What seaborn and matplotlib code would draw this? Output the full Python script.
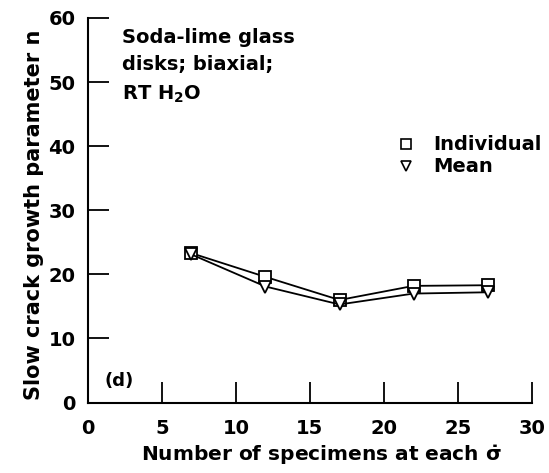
import pandas as pd
import matplotlib
matplotlib.use("Agg")
import matplotlib.pyplot as plt
import seaborn as sns
from matplotlib.lines import Line2D

# values
specimens = [7, 12, 17, 22, 27]
n_individual = [23.3, 19.6, 16.0, 18.2, 18.3]
n_mean = [23.1, 18.1, 15.3, 17.0, 17.2]

df = pd.DataFrame({
    "specimens": specimens * 2,
    "n": n_individual + n_mean,
    "series": ["Individual"] * len(specimens) + ["Mean"] * len(specimens),
})

sns.set_style("ticks", rc={"text.color": "black", "axes.labelcolor": "black",
                           "xtick.color": "black", "ytick.color": "black",
                           "axes.edgecolor": "black"})
plt.rcParams["font.family"] = ["DejaVu Sans"]
plt.rcParams["font.weight"] = "bold"
plt.rcParams["mathtext.fontset"] = "dejavusans"
plt.rcParams["mathtext.default"] = "bf"

fig = plt.figure(figsize=(5.49, 4.73), dpi=100)
ax = fig.add_axes([0.160, 0.149, 0.809, 0.813])

markers = {"Individual": "s", "Mean": "v"}
for name, grp in df.groupby("series"):
    sns.lineplot(data=grp, x="specimens", y="n", ax=ax, color="black",
                 marker=markers[name], markersize=9, markerfacecolor="white",
                 markeredgecolor="black", markeredgewidth=1.3, linewidth=1.3,
                 legend=False)

ax.set_xlim(0, 30)
ax.set_ylim(0, 60)
ax.set_xticks([0, 5, 10, 15, 20, 25, 30])
ax.set_yticks([0, 10, 20, 30, 40, 50, 60])
ax.tick_params(axis="x", direction="in", length=15, width=1.3,
               labelsize=14, pad=12)
ax.tick_params(axis="y", direction="in", length=15, width=1.3,
               labelsize=14, pad=9)
for lab in ax.get_xticklabels() + ax.get_yticklabels():
    lab.set_fontweight("bold")
    lab.set_fontsize(14)
sns.despine(ax=ax)
for s in ["left", "bottom"]:
    ax.spines[s].set_linewidth(1.5)

ax.set_xlabel(r"Number of specimens at each $\dot{\sigma}$", fontsize=14.5,
              fontweight="bold")
ax.set_ylabel("Slow crack growth parameter n", fontsize=15,
              fontweight="bold")
ax.xaxis.set_label_coords(0.525, -0.105)
ax.yaxis.set_label_coords(-0.098, 0.489)

ax.text(2.3, 58.4, "Soda-lime glass\ndisks; biaxial;\nRT H$_2$O", fontsize=14,
        fontweight="bold", va="top", ha="left", linespacing=1.55)
ax.text(1.1, 3.3, "(d)", fontsize=13, fontweight="bold", va="center")

handles = [
    Line2D([], [], linestyle="none", marker="s", markersize=7,
           markerfacecolor="white", markeredgecolor="black", markeredgewidth=1.2),
    Line2D([], [], linestyle="none", marker="v", markersize=7,
           markerfacecolor="white", markeredgecolor="black", markeredgewidth=1.2),
]
ax.legend(handles, ["Individual", "Mean"], loc="upper left",
          bbox_to_anchor=(0.655, 0.74), frameon=False,
          handletextpad=0.9, labelspacing=0.15, handlelength=1.0,
          prop={"weight": "bold", "size": 14})

fig.savefig("out.png", dpi=100)
